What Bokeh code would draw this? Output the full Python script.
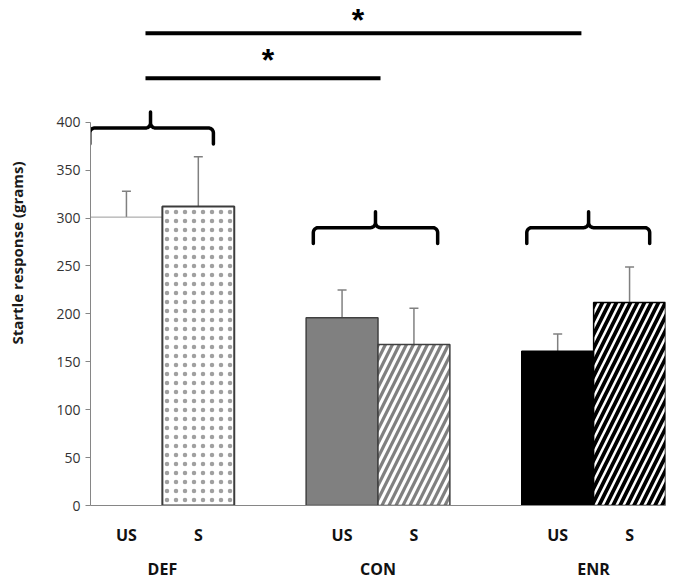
import numpy as np
from bokeh.plotting import figure
from bokeh.models import (ColumnDataSource, FactorRange, Range1d, Whisker, TeeHead,
                          FixedTicker, CategoricalAxis)
from bokeh.core.properties import value
from bokeh.embed import file_html
from bokeh.resources import INLINE

# ---------------- data ----------------
groups = ["DEF", "CON", "ENR"]
conditions = ["US", "S"]
mean_us = [301, 196, 161]
mean_s = [312, 168, 212]
sem_us = [27, 29, 18]
sem_s = [52, 38, 37]
y_ticks = [0, 50, 100, 150, 200, 250, 300, 350, 400]
y_title = "Startle response (grams)"

# annotation data: group braces and significance bars
brace_level = [394, 290, 290]
sig_from = ["DEF", "DEF"]
sig_to = ["CON", "ENR"]
sig_level = [446, 493]
sig_mark = ["*", "*"]

# ---------------- layout / style (not data) ----------------
W, H = 673, 582
BL, BR, BT, BB = 90, 8, 0, 76
FW, FH = W - BL - BR, H - BT - BB
PX_Y = 0.96
Y_TOP = FH / PX_Y
N_UNITS = 8.0
PX_X = FW / N_UNITS

brace_left = [-1.01, -0.90, -0.93]
brace_right = [0.71, 0.83, 0.78]
brace_tip = [-0.165, -0.035, -0.07]
sig_start_shift = [-0.235, -0.235]
sig_end_shift = [0.035, -0.17]
sig_star_anchor = [("CON", -1.53), ("CON", -0.28)]
sig_star_lift = [17.8, 12.7]

bar_style = {
    ("DEF", "US"): dict(fill="#ffffff", line="#9a9a9a", lw=1.0, hatch="blank", hcolor="#ffffff", hscale=8, hweight=1),
    ("DEF", "S"): dict(fill="#ffffff", line="#3c3c3c", lw=2.0, hatch="dot", hcolor="#a0a0a0", hscale=9, hweight=0.3),
    ("CON", "US"): dict(fill="#808080", line="#404040", lw=1.5, hatch="blank", hcolor="#808080", hscale=8, hweight=1),
    ("CON", "S"): dict(fill="#ffffff", line="#404040", lw=1.5, hatch="right_diagonal_line", hcolor="#808080", hscale=14, hweight=3.2),
    ("ENR", "US"): dict(fill="#000000", line="#000000", lw=1.5, hatch="blank", hcolor="#000000", hscale=8, hweight=1),
    ("ENR", "S"): dict(fill="#ffffff", line="#000000", lw=1.5, hatch="right_diagonal_line", hcolor="#000000", hscale=14, hweight=3.8),
}

# ---------------- sources ----------------
xs, tops, uppers = [], [], []
for i, g in enumerate(groups):
    for c, m, e in (("US", mean_us[i], sem_us[i]), ("S", mean_s[i], sem_s[i])):
        xs.append((g, c))
        tops.append(m)
        uppers.append(m + e)

src = ColumnDataSource(dict(
    x=xs, top=tops, upper=uppers,
    fill=[bar_style[k]["fill"] for k in xs],
    line=[bar_style[k]["line"] for k in xs],
    lw=[bar_style[k]["lw"] for k in xs],
    hatch=[bar_style[k]["hatch"] for k in xs],
    hcolor=[bar_style[k]["hcolor"] for k in xs],
    hscale=[bar_style[k]["hscale"] for k in xs],
    hweight=[bar_style[k]["hweight"] for k in xs],
))

p = figure(x_range=FactorRange(factors=xs, group_padding=1.0, factor_padding=0.0, range_padding=0.0),
           y_range=Range1d(0, Y_TOP), width=W, height=H,
           output_backend="svg", toolbar_location=None,
           min_border_left=BL, min_border_right=BR, min_border_top=BT, min_border_bottom=BB)
p.title.visible = False
p.outline_line_color = None
p.xgrid.grid_line_color = None
p.ygrid.grid_line_color = None
p.background_fill_color = "white"
p.border_fill_color = "white"

p.vbar(x="x", top="top", bottom=0, width=1.0, source=src,
       fill_color="fill", line_color="line", line_width="lw",
       hatch_pattern="hatch", hatch_color="hcolor", hatch_scale="hscale", hatch_weight="hweight")

p.add_layout(Whisker(source=src, base="x", lower="top", upper="upper",
                     line_color="#808080", line_width=1.5,
                     upper_head=TeeHead(size=9, line_color="#808080", line_width=1.5),
                     lower_head=None))

# braces
th = np.linspace(0, np.pi / 2, 9)
rx, ry = 5 / PX_X, 5 / PX_Y
leg, up = 16 / PX_Y, 16 / PX_Y
for g, lvl, L, R, T in zip(groups, brace_level, brace_left, brace_right, brace_tip):
    px, py = [L], [lvl - leg]
    px += list(L + rx - rx * np.cos(th)); py += list(lvl - ry + ry * np.sin(th))
    px += list(T - rx + rx * np.sin(th)); py += list(lvl + ry - ry * np.cos(th))
    px += [T]; py += [lvl + up]
    px += list(T + rx - rx * np.sin(th[::-1])); py += list(lvl + ry - ry * np.cos(th[::-1]))
    px += list(R - rx + rx * np.cos(th[::-1])); py += list(lvl - ry + ry * np.sin(th[::-1]))
    px += [R]; py += [lvl - leg]
    p.line(x=[(g, float(o)) for o in px], y=[float(v) for v in py],
           line_color="black", line_width=3.5, line_join="round", line_cap="round")

# significance bars
for f, t, lvl, s0, s1, anc, lift, mk in zip(sig_from, sig_to, sig_level, sig_start_shift,
                                            sig_end_shift, sig_star_anchor, sig_star_lift, sig_mark):
    p.line(x=[(f, s0), (t, s1)], y=[lvl, lvl], line_color="black", line_width=4)
    p.text(x=[anc], y=[lvl + lift / PX_Y], text=[mk], text_font=value("Liberation Sans"),
           text_font_style="bold", text_font_size="32px", text_color="black",
           text_align="center", text_baseline="middle")

# x axis: condition labels
xa = p.xaxis[0]
xa.axis_line_color = "#868686"
xa.axis_line_width = 1
xa.major_tick_line_color = None
xa.major_tick_out = 0
xa.major_tick_in = 0
xa.minor_tick_line_color = None
xa.major_label_text_font = "Open Sans"
xa.major_label_text_font_style = "bold"
xa.major_label_text_font_size = "16px"
xa.major_label_text_color = "#111111"
xa.major_label_standoff = 18
xa.group_text_color = None
xa.group_text_font_size = "0px"
xa.separator_line_color = None

# second x axis: group labels
p.extra_x_ranges = {"grp": FactorRange(factors=groups, factor_padding=2.0,
                                       range_padding=0.5, range_padding_units="absolute")}
ga = CategoricalAxis(x_range_name="grp")
ga.axis_line_color = None
ga.major_tick_line_color = None
ga.major_tick_out = 0
ga.major_tick_in = 0
ga.minor_tick_line_color = None
ga.major_label_text_font = "Open Sans"
ga.major_label_text_font_style = "bold"
ga.major_label_text_font_size = "16px"
ga.major_label_text_color = "#111111"
ga.major_label_standoff = 9
p.add_layout(ga, "below")

# y axis
ya = p.yaxis[0]
ya.ticker = FixedTicker(ticks=y_ticks)
ya.bounds = (0, 400)
ya.axis_line_color = "#868686"
ya.major_tick_line_color = "#868686"
ya.major_tick_out = 5
ya.major_tick_in = 0
ya.minor_tick_line_color = None
ya.major_label_text_font = "Open Sans"
ya.major_label_text_font_size = "14px"
ya.major_label_text_color = "#333333"
ya.major_label_standoff = 5
ya.axis_label = y_title
ya.axis_label_text_font = "Open Sans"
ya.axis_label_text_font_style = "bold"
ya.axis_label_text_font_size = "15px"
ya.axis_label_text_color = "#1a1a1a"
ya.axis_label_standoff = 26

open("out.html", "w").write(file_html(p, INLINE))
